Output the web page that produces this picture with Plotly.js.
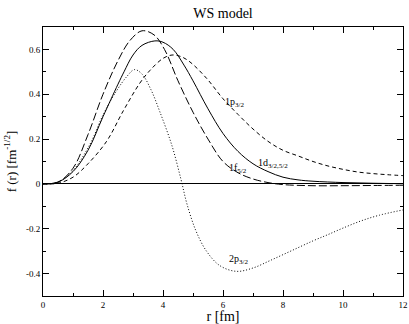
<!DOCTYPE html>
<html>
<head>
<meta charset="utf-8">
<script src="https://cdn.plot.ly/plotly-3.0.1.min.js"></script>
<style>
  html, body { margin: 0; padding: 0; background: #fff; }
  #chart { width: 409px; height: 324px; }
</style>
</head>
<body>
<div id="chart"></div>
<script>
// radial wave functions
const r1d = [0, 0.5, 1.0, 1.5, 2.0, 2.5, 2.7, 3.0, 3.3, 3.73, 4.0, 4.34, 4.7, 5.0, 5.5, 6.0, 6.5, 7.0, 7.5, 8.0, 8.5, 9.0, 10, 11, 12];
const f1d = [0, 0.008, 0.055, 0.15, 0.3, 0.445, 0.5, 0.575, 0.618, 0.638, 0.632, 0.6, 0.53, 0.46, 0.335, 0.225, 0.145, 0.09, 0.055, 0.03, 0.018, 0.012, 0.006, 0.003, 0.001];

const r1f = [0, 0.5, 1.0, 1.5, 2.0, 2.5, 2.9, 3.3, 3.7, 4.05, 4.5, 5.0, 5.5, 6.0, 6.5, 7.0, 7.5, 8.0, 9.0, 10, 11, 12];
const f1f = [0, 0.008, 0.07, 0.22, 0.4, 0.55, 0.64, 0.683, 0.665, 0.6, 0.46, 0.32, 0.2, 0.1, 0.05, 0.022, 0.006, -0.003, -0.008, -0.008, -0.007, -0.006];

const r1p = [0, 0.5, 1.0, 1.5, 2.12, 2.68, 3.23, 3.57, 4.0, 4.3, 4.6, 4.9, 5.46, 6.0, 6.5, 7.0, 7.5, 8.0, 8.5, 9.0, 9.5, 10, 10.5, 11, 11.5, 12];
const f1p = [0, 0.003, 0.03, 0.09, 0.19, 0.327, 0.45, 0.507, 0.56, 0.575, 0.568, 0.544, 0.47, 0.38, 0.31, 0.245, 0.19, 0.15, 0.125, 0.1, 0.08, 0.065, 0.053, 0.046, 0.041, 0.037];

const r2p = [0, 0.5, 1.0, 1.57, 2.01, 2.46, 2.8, 3.05, 3.3, 3.6, 3.9, 4.3, 4.6, 4.8, 5.1, 5.45, 5.9, 6.45, 7.0, 7.6, 8.3, 9.0, 9.5, 10, 10.6, 11.2, 12];
const f2p = [0, 0.008, 0.06, 0.178, 0.31, 0.417, 0.48, 0.51, 0.49, 0.42, 0.32, 0.17, 0.02, -0.09, -0.21, -0.3, -0.365, -0.39, -0.375, -0.34, -0.297, -0.254, -0.226, -0.197, -0.165, -0.14, -0.116];

const yTicks = [-0.4, -0.2, 0, 0.2, 0.4, 0.6];
const yTickText = ["-0.4", "-0.2", "0", "0.2", "0.4", "0.6"];

const curveLabels = ["1p<sub>3/2</sub>", "1d<sub>3/2,5/2</sub>", "1f<sub>5/2</sub>", "2p<sub>3/2</sub>"];
const labelR = [6.37, 7.67, 6.5, 6.53];
const labelF = [0.363, 0.09, 0.067, -0.336];

const serif = "Liberation Serif, Times New Roman, serif";

function curve(x, y, dash) {
    return {
        x: x,
        y: y,
        type: "scatter",
        mode: "lines",
        line: {color: "black", width: 1, dash: dash, shape: "spline", smoothing: 1},
        hoverinfo: "skip",
    };
}

let data = [
    curve(r1d, f1d, "solid"),
    curve(r1f, f1f, "8px,3px"),
    curve(r1p, f1p, "4px,3px"),
    curve(r2p, f2p, "1px,2px"),
];

let annotations = curveLabels.map(function(t, i) {
    return {
        x: labelR[i], y: labelF[i], text: t, showarrow: false,
        font: {family: serif, size: 10, color: "black"},
    };
});

let layout = {
    width: 409,
    height: 324,
    margin: {l: 43, r: 6, t: 27, b: 28},
    paper_bgcolor: "white",
    plot_bgcolor: "white",
    showlegend: false,
    title: {
        text: "WS model",
        font: {family: serif, size: 14, color: "black"},
        xref: "paper", x: 0.5, xanchor: "center", y: 0.96, yanchor: "middle",
    },
    xaxis: {
        range: [0, 12],
        dtick: 2,
        tick0: 0,
        ticks: "inside",
        ticklen: 6,
        tickcolor: "black",
        minor: {ticks: "inside", dtick: 1, ticklen: 3, tickcolor: "black"},
        showgrid: false,
        zeroline: false,
        showline: true,
        linecolor: "black",
        linewidth: 1,
        mirror: "allticks",
        tickfont: {family: serif, size: 9, color: "black"},
        title: {text: "r [fm]", font: {family: serif, size: 14, color: "black"}, standoff: 3},
    },
    yaxis: {
        range: [-0.5, 0.7],
        tickvals: yTicks,
        ticktext: yTickText,
        ticks: "inside",
        ticklen: 6,
        tickcolor: "black",
        minor: {ticks: "inside", dtick: 0.1, tick0: 0, ticklen: 3, tickcolor: "black"},
        showgrid: false,
        zeroline: true,
        zerolinecolor: "black",
        zerolinewidth: 1,
        showline: true,
        linecolor: "black",
        linewidth: 1,
        mirror: "allticks",
        tickfont: {family: serif, size: 9, color: "black"},
        title: {text: "f (r) [fm<sup>-1/2</sup>]", font: {family: serif, size: 13, color: "black"}, standoff: 6},
    },
    annotations: annotations,
};

Plotly.newPlot("chart", data, layout, {staticPlot: true});
</script>
</body>
</html>
